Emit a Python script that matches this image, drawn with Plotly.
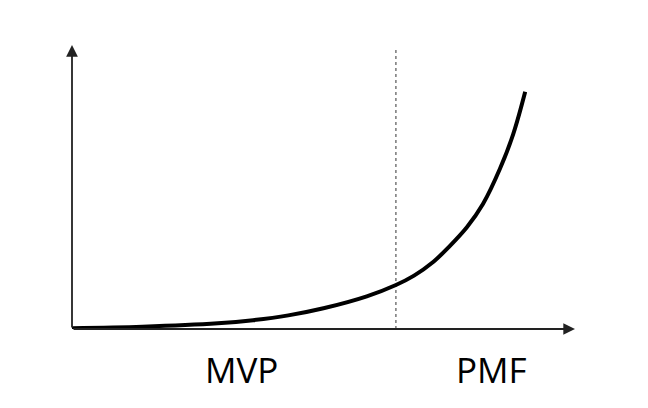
import plotly.graph_objects as go

# Curve values (arbitrary units, x 0-100, y 0-100)
curve_x = [0, 14, 29, 36, 43, 50, 58.6, 64.4, 68, 71.8, 75, 78.5, 81.7, 85.1, 87.7, 90.1]
curve_y = [0.3, 0.8, 2.0, 3.1, 4.8, 7.3, 11.5, 15.5, 18.8, 23.6, 29.0, 35.8, 44.0, 56.5, 68.5, 83.5]

divider_x = 64.4
divider_top = 98.9

stage_labels = ["MVP", "PMF"]
stage_label_x = [33.6, 83.3]
stage_label_y = -0.144  # paper units

fig = go.Figure()

fig.add_trace(go.Scatter(
    x=[divider_x, divider_x], y=[0, divider_top], mode="lines",
    line=dict(color="#333333", width=1, dash="dot"), hoverinfo="skip", showlegend=False))

fig.add_trace(go.Scatter(
    x=curve_x, y=curve_y, mode="lines",
    line=dict(color="#000000", width=4, shape="spline", smoothing=1),
    hoverinfo="skip", showlegend=False, cliponaxis=False))

annotations = [
    dict(x=100, y=0, ax=0, ay=0, xref="x", yref="y", axref="x", ayref="y",
         showarrow=True, arrowhead=2, arrowsize=1.3, arrowwidth=1.8, arrowcolor="#222222", text=""),
    dict(x=0, y=100, ax=0, ay=0, xref="x", yref="y", axref="x", ayref="y",
         showarrow=True, arrowhead=2, arrowsize=1.3, arrowwidth=1.8, arrowcolor="#222222", text=""),
]
for lbl, lx in zip(stage_labels, stage_label_x):
    annotations.append(dict(x=lx, y=stage_label_y, xref="x", yref="paper", text=lbl, showarrow=False,
                            font=dict(family="Open Sans", size=35, color="#000000"),
                            xanchor="center", yanchor="middle"))

fig.update_layout(
    width=640, height=400,
    margin=dict(l=64, r=73, t=37, b=79),
    paper_bgcolor="white", plot_bgcolor="white",
    xaxis=dict(range=[0, 100], visible=False, fixedrange=True),
    yaxis=dict(range=[0, 100], visible=False, fixedrange=True),
    annotations=annotations,
    showlegend=False,
)

fig.write_html("out.html")
